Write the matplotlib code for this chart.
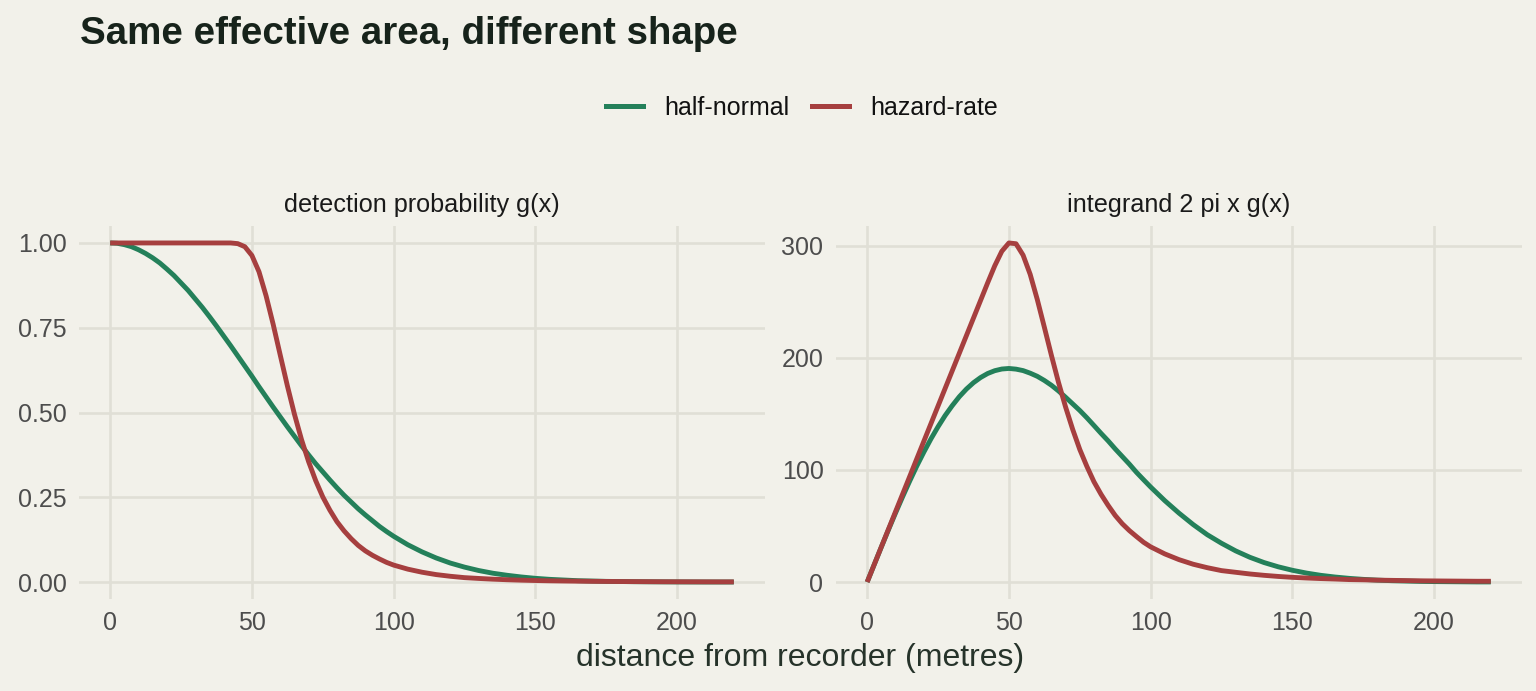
import numpy as np
import matplotlib
matplotlib.use("Agg")
import matplotlib.pyplot as plt
from matplotlib.lines import Line2D

# ---- data ----
distance = [0, 2.5, 5, 7.5, 10, 12.5, 15, 17.5, 20, 22.5, 25, 27.5, 30, 32.5, 35, 37.5,
            40, 42.5, 45, 47.5, 50, 52.5, 55, 57.5, 60, 62.5, 65, 67.5, 70, 72.5, 75, 77.5,
            80, 82.5, 85, 87.5, 90, 92.5, 95, 97.5, 100, 105, 110, 115, 120, 125, 130, 135,
            140, 145, 150, 155, 160, 165, 170, 175, 180, 185, 190, 195, 200, 205, 210, 215, 220]

g_half_normal = [1.000, 0.999, 0.995, 0.989, 0.980, 0.969, 0.956, 0.941, 0.923, 0.904, 0.882,
                 0.860, 0.835, 0.810, 0.783, 0.755, 0.726, 0.697, 0.667, 0.637, 0.607, 0.576,
                 0.546, 0.516, 0.487, 0.458, 0.430, 0.402, 0.375, 0.349, 0.325, 0.301, 0.278,
                 0.256, 0.236, 0.216, 0.198, 0.181, 0.164, 0.149, 0.135, 0.110, 0.089, 0.071,
                 0.056, 0.044, 0.034, 0.026, 0.020, 0.015, 0.011, 0.008, 0.006, 0.004, 0.003,
                 0.002, 0.0015, 0.001, 0.0007, 0.0005, 0.0003, 0.0002, 0.0001, 0.0001, 0.0001]

g_hazard_rate = [1.000, 1.000, 1.000, 1.000, 1.000, 1.000, 1.000, 1.000, 1.000, 1.000, 1.000,
                 1.000, 1.000, 1.000, 1.000, 1.000, 1.000, 1.000, 0.998, 0.989, 0.963, 0.915,
                 0.844, 0.760, 0.669, 0.579, 0.495, 0.420, 0.355, 0.299, 0.251, 0.212, 0.178,
                 0.151, 0.128, 0.108, 0.092, 0.079, 0.068, 0.058, 0.050, 0.038, 0.029, 0.022,
                 0.017, 0.013, 0.0106, 0.0085, 0.0068, 0.0055, 0.0045, 0.0037, 0.0031, 0.0026,
                 0.0021, 0.0018, 0.0015, 0.0013, 0.0011, 0.0009, 0.0008, 0.0007, 0.0006, 0.0005, 0.0005]

integrand_half_normal = [0, 15.7, 31.3, 46.6, 61.6, 76.1, 90.1, 103.5, 116.0, 127.8, 138.6, 148.6,
                         157.4, 165.4, 172.2, 177.9, 182.5, 186.1, 188.6, 190.1, 190.6, 190.0,
                         188.7, 186.4, 183.6, 179.9, 175.6, 170.5, 164.9, 159.0, 153.1, 146.6,
                         139.7, 132.7, 126.0, 118.8, 112.0, 105.2, 97.9, 91.3, 84.8, 72.6, 61.5,
                         51.3, 42.2, 34.6, 27.8, 22.1, 17.4, 13.6, 10.5, 8.0, 6.0, 4.5, 3.3, 2.4,
                         1.7, 1.2, 0.9, 0.6, 0.4, 0.3, 0.2, 0.1, 0.1]

integrand_hazard_rate = [0, 15.7, 31.4, 47.1, 62.8, 78.5, 94.2, 110.0, 125.7, 141.4, 157.1, 172.8,
                         188.5, 204.2, 219.9, 235.6, 251.3, 267.0, 282.2, 295.2, 302.6, 301.9,
                         291.7, 274.6, 252.2, 227.4, 202.2, 178.1, 156.1, 136.2, 118.3, 103.2,
                         89.5, 78.3, 68.4, 59.4, 52.0, 45.9, 40.6, 35.5, 31.4, 25.1, 20.0, 15.9,
                         12.8, 10.2, 8.7, 7.2, 6.0, 5.0, 4.2, 3.6, 3.1, 2.7, 2.2, 2.0, 1.7, 1.5,
                         1.3, 1.1, 1.0, 0.9, 0.8, 0.7, 0.7]

series_names = ["half-normal", "hazard-rate"]
panel_titles = ["detection probability g(x)", "integrand 2 pi x g(x)"]
x_ticks = [0, 50, 100, 150, 200]
y_ticks_left = [0.0, 0.25, 0.50, 0.75, 1.00]
y_ticks_right = [0, 100, 200, 300]

# ---- style ----
BG = "#F2F1EA"
GRID = "#E0DFD6"
C_HN = "#24805A"
C_HR = "#A63F3F"
plt.rcParams["font.family"] = ["Liberation Sans", "DejaVu Sans"]

W, H = 1536, 691
fig = plt.figure(figsize=(W / 100, H / 100), dpi=100, facecolor=BG)

def px_axes(x0, y0, x1, y1):
    return fig.add_axes([x0 / W, 1 - y1 / H, (x1 - x0) / W, (y1 - y0) / H])

ax1 = px_axes(79, 226, 765, 599)
ax2 = px_axes(836, 226, 1522, 599)

panels = [
    (ax1, g_half_normal, g_hazard_rate, y_ticks_left, lambda v: f"{v:.2f}"),
    (ax2, integrand_half_normal, integrand_hazard_rate, y_ticks_right, lambda v: f"{v:.0f}"),
]
for (ax, hn, hr, yt, fmt), title in zip(panels, panel_titles):
    ax.set_facecolor(BG)
    ax.plot(distance, hn, color=C_HN, lw=3.5, solid_capstyle="butt",
            solid_joinstyle="round", zorder=3)
    ax.plot(distance, hr, color=C_HR, lw=3.5, solid_capstyle="butt",
            solid_joinstyle="round", zorder=3)
    ax.set_xlim(-11, 231)
    ymax = max(max(hn), max(hr))
    ax.set_ylim(-0.05 * ymax, 1.05 * ymax)
    ax.set_xticks(x_ticks)
    ax.set_yticks(yt)
    ax.set_yticklabels([fmt(v) for v in yt])
    ax.grid(True, color=GRID, lw=1.9, zorder=0)
    ax.set_axisbelow(True)
    for s in ax.spines.values():
        s.set_visible(False)
    ax.tick_params(length=0, labelsize=18, labelcolor="#4D4D4D", pad=9)
    ax.set_title(title, fontsize=18.2, color="#1A1A1A", pad=10)

fig.text(80 / W, 1 - 34 / H, "Same effective area, different shape", fontsize=27.7,
         fontweight="bold", color="#17231B", ha="left", va="center")

fig.text(800 / W, 1 - 658 / H, "distance from recorder (metres)", fontsize=23,
         color="#26332A", ha="center", va="center")

handles = [Line2D([], [], color=C_HN, lw=3.6), Line2D([], [], color=C_HR, lw=3.6)]
leg = fig.legend(handles, series_names, loc="center", bbox_to_anchor=(802 / W, 1 - 108 / H),
                 ncol=2, frameon=False, fontsize=18, handlelength=1.5,
                 handletextpad=0.85, columnspacing=0.9)
for t in leg.get_texts():
    t.set_color("#111111")

fig.savefig("out.png", dpi=100, facecolor=BG)
